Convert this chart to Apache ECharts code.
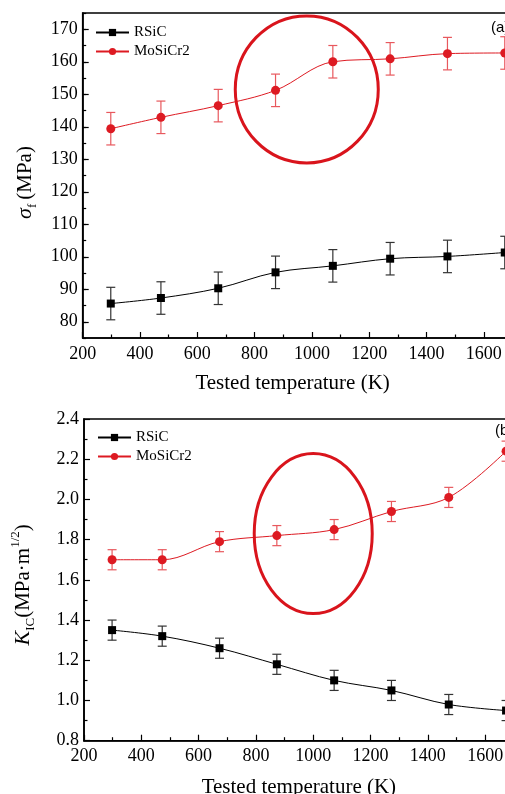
<!DOCTYPE html>
<html>
<head>
<meta charset="utf-8">
<script src="https://cdn.jsdelivr.net/npm/echarts@6/dist/echarts.min.js"></script>
<style>
  html, body { margin: 0; padding: 0; background: #fff; }
  #chart { width: 505px; height: 794px; }
</style>
</head>
<body>
<div id="chart"></div>
<script>
// tested temperatures (K)
var temps = [298, 473, 673, 873, 1073, 1273, 1473, 1673];
// (a) flexural strength, MPa
var rsicStrength = [85.6, 87.3, 90.3, 95.2, 97.2, 99.4, 100.1, 101.3];
var mosiStrength = [139.4, 142.9, 146.5, 151.2, 160.0, 160.9, 162.5, 162.7];
var rsicStrengthErr = [5, 5, 5, 5, 5, 5, 5, 5];
var mosiStrengthErr = [5, 5, 5, 5, 5, 5, 5, 5];
// (b) fracture toughness, MPa·m^1/2
var rsicTough = [1.35, 1.32, 1.26, 1.18, 1.10, 1.05, 0.98, 0.95];
var mosiTough = [1.70, 1.70, 1.79, 1.82, 1.85, 1.94, 2.01, 2.24];
var rsicToughErr = [0.05, 0.05, 0.05, 0.05, 0.05, 0.05, 0.05, 0.05];
var mosiToughErr = [0.05, 0.05, 0.05, 0.05, 0.05, 0.05, 0.05, 0.05];
// tick labels of the strength axis (it starts at 75)
var strengthTicks = [80, 90, 100, 110, 120, 130, 140, 150, 160, 170];

var BLACK = '#000';
var RED = '#dd1a22';
var RED_LIGHT = '#e8585d';
var FONT = 'Liberation Serif';

function pairs(xs, ys) {
  return xs.map(function (x, i) { return [x, ys[i]]; });
}
function errRows(xs, ys, es) {
  return xs.map(function (x, i) { return [x, ys[i] - es[i], ys[i] + es[i]]; });
}

// error bars drawn through the axis scales
function errorBarSeries(name, rows, color, gi) {
  return {
    type: 'custom',
    name: name + ' err',
    xAxisIndex: gi,
    yAxisIndex: gi === 0 ? 0 : 2,
    data: rows,
    z: 1,
    clip: false,
    renderItem: function (params, api) {
      var lo = api.coord([api.value(0), api.value(1)]);
      var hi = api.coord([api.value(0), api.value(2)]);
      var w = 4.5;
      var st = { stroke: color, lineWidth: 1.2 };
      return {
        type: 'group',
        children: [
          { type: 'line', shape: { x1: lo[0], y1: lo[1], x2: hi[0], y2: hi[1] }, style: st },
          { type: 'line', shape: { x1: lo[0] - w, y1: lo[1], x2: lo[0] + w, y2: lo[1] }, style: st },
          { type: 'line', shape: { x1: hi[0] - w, y1: hi[1], x2: hi[0] + w, y2: hi[1] }, style: st }
        ]
      };
    },
    encode: { x: 0, y: [1, 2] }
  };
}

function lineSeries(name, data, color, symbol, size, gi) {
  return {
    type: 'line',
    name: name,
    xAxisIndex: gi,
    yAxisIndex: gi === 0 ? 0 : 2,
    data: data,
    smooth: 0.35,
    symbol: symbol,
    symbolSize: size,
    clip: false,
    z: 3,
    lineStyle: { color: color, width: 1 },
    itemStyle: { color: color }
  };
}

function xAxisOf(gi) {
  return {
    type: 'value',
    gridIndex: gi,
    min: 200,
    max: 1700,
    interval: 200,
    name: 'Tested temperature (K)',
    nameLocation: 'middle',
    nameGap: gi === 0 ? 35 : 36,
    nameTextStyle: { fontFamily: FONT, fontSize: 21, color: BLACK, padding: gi === 0 ? [0, 10, 0, 0] : [0, 0, 0, 0] },
    axisLine: { lineStyle: { color: BLACK, width: 1.6 } },
    axisTick: { inside: true, length: 6, lineStyle: { color: BLACK, width: 1.2 } },
    minorTick: { show: true, splitNumber: 2, length: 3.5, lineStyle: { color: BLACK, width: 1.2 } },
    axisLabel: {
      fontFamily: FONT, fontSize: 18, color: BLACK, margin: 7, showMaxLabel: false,
      formatter: function (v) { return String(v); }
    },
    splitLine: { show: false }
  };
}

var tickStyle = { color: BLACK, width: 1.2 };

var option = {
  animation: false,
  backgroundColor: '#fff',
  grid: [
    { left: 82.7, top: 13, width: 429.8, height: 325, outerBoundsMode: 'none', containLabel: false, show: true, borderColor: BLACK, borderWidth: 1.6 },
    { left: 84, top: 419, width: 429.8, height: 321.7, outerBoundsMode: 'none', containLabel: false, show: true, borderColor: BLACK, borderWidth: 1.6 }
  ],
  legend: [
    {
      orient: 'vertical', left: 95, top: 25, padding: 0, itemGap: 4, itemWidth: 33, itemHeight: 9,
      data: ['RSiC', 'MoSiCr2'],
      textStyle: { fontFamily: FONT, fontSize: 15, color: BLACK }
    },
    {
      orient: 'vertical', left: 97, top: 430, padding: 0, itemGap: 4, itemWidth: 33, itemHeight: 9,
      data: ['RSiC', 'MoSiCr2'],
      textStyle: { fontFamily: FONT, fontSize: 15, color: BLACK }
    }
  ],
  xAxis: [xAxisOf(0), xAxisOf(1)],
  yAxis: [
    {
      type: 'value', gridIndex: 0, min: 75, max: 175, interval: 5,
      name: '{s|σ}{sub|f}{t|(MPa)}',
      nameLocation: 'middle',
      nameGap: 44,
      nameTextStyle: {
        fontFamily: FONT, fontSize: 21, color: BLACK, padding: [0, 0, 0, -14],
        rich: {
          s: { fontFamily: FONT, fontSize: 22, fontStyle: 'italic', color: BLACK, lineHeight: 26 },
          sub: { fontFamily: FONT, fontSize: 13, color: BLACK, verticalAlign: 'bottom', lineHeight: 14, padding: [0, 4, 0, 0] },
          t: { fontFamily: FONT, fontSize: 21, color: BLACK, lineHeight: 26 }
        }
      },
      axisLine: { show: true, lineStyle: { color: BLACK, width: 1.6 } },
      axisTick: { inside: true, length: 6, customValues: strengthTicks, lineStyle: tickStyle },
      axisLabel: { fontFamily: FONT, fontSize: 18, color: BLACK, margin: 5, customValues: strengthTicks },
      splitLine: { show: false }
    },
    {
      // short ticks every 5 MPa
      type: 'value', gridIndex: 0, min: 75, max: 175, interval: 5, position: 'left',
      axisLine: { show: false },
      axisTick: { show: true, inside: true, length: 3.5, lineStyle: tickStyle },
      axisLabel: { show: false },
      splitLine: { show: false }
    },
    {
      type: 'value', gridIndex: 1, min: 0.8, max: 2.4, interval: 0.2,
      name: '{k|K}{sub|IC}{t|(MPa·m}{sup|1/2}{t|)}',
      nameLocation: 'middle',
      nameGap: 47,
      nameTextStyle: {
        fontFamily: FONT, fontSize: 21, color: BLACK, padding: [0, 0, 0, -10],
        rich: {
          k: { fontFamily: FONT, fontSize: 22, fontStyle: 'italic', color: BLACK, lineHeight: 28 },
          sub: { fontFamily: FONT, fontSize: 13, color: BLACK, verticalAlign: 'bottom', lineHeight: 14 },
          t: { fontFamily: FONT, fontSize: 21, color: BLACK, lineHeight: 28 },
          sup: { fontFamily: FONT, fontSize: 13, color: BLACK, verticalAlign: 'top', lineHeight: 14 }
        }
      },
      axisLine: { show: true, lineStyle: { color: BLACK, width: 1.6 } },
      axisTick: { inside: true, length: 6, lineStyle: tickStyle },
      minorTick: { show: true, splitNumber: 2, length: 3.5, lineStyle: tickStyle },
      axisLabel: {
        fontFamily: FONT, fontSize: 18, color: BLACK, margin: 5,
        formatter: function (v) { return v.toFixed(1); }
      },
      splitLine: { show: false }
    }
  ],
  series: [
    errorBarSeries('RSiC', errRows(temps, rsicStrength, rsicStrengthErr), '#333', 0),
    errorBarSeries('MoSiCr2', errRows(temps, mosiStrength, mosiStrengthErr), RED_LIGHT, 0),
    lineSeries('RSiC', pairs(temps, rsicStrength), BLACK, 'rect', 8, 0),
    lineSeries('MoSiCr2', pairs(temps, mosiStrength), RED, 'circle', 9, 0),
    errorBarSeries('RSiC', errRows(temps, rsicTough, rsicToughErr), '#333', 1),
    errorBarSeries('MoSiCr2', errRows(temps, mosiTough, mosiToughErr), RED_LIGHT, 1),
    lineSeries('RSiC', pairs(temps, rsicTough), BLACK, 'rect', 8, 1),
    lineSeries('MoSiCr2', pairs(temps, mosiTough), RED, 'circle', 9, 1)
  ]
};

var chart = echarts.init(document.getElementById('chart'));
chart.setOption(option);

// highlight ellipses, centred in data coordinates
var c1 = chart.convertToPixel({ xAxisIndex: 0, yAxisIndex: 0 }, [982, 151.5]);
var c2 = chart.convertToPixel({ xAxisIndex: 1, yAxisIndex: 2 }, [1000, 1.83]);
chart.setOption({
  graphic: [
    { type: 'ellipse', shape: { cx: c1[0], cy: c1[1], rx: 71.5, ry: 73.5 }, style: { fill: 'none', stroke: '#d9141c', lineWidth: 3 }, z: 10 },
    { type: 'ellipse', shape: { cx: c2[0], cy: c2[1], rx: 59, ry: 80 }, style: { fill: 'none', stroke: '#d9141c', lineWidth: 3 }, z: 10 },
    { type: 'text', left: 491, top: 20, style: { text: '(a)', fontFamily: 'Liberation Sans', fontSize: 15, fill: BLACK } },
    { type: 'text', left: 495, top: 423, style: { text: '(b)', fontFamily: 'Liberation Sans', fontSize: 15, fill: BLACK } }
  ]
});
</script>
</body>
</html>
